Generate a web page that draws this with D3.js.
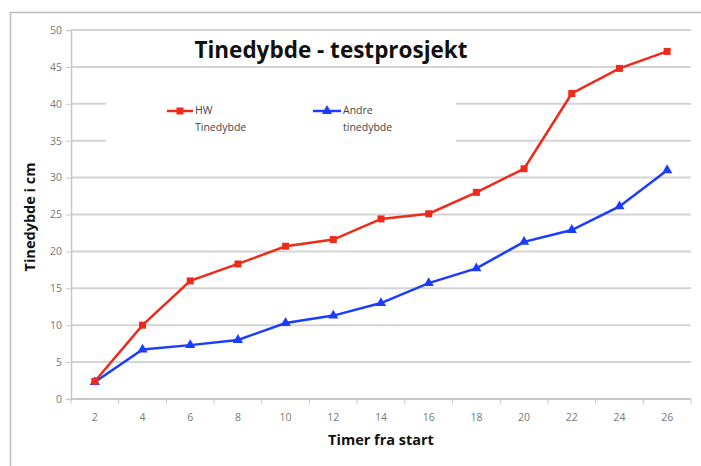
<!DOCTYPE html>
<html><head><meta charset="utf-8">
<script src="https://cdn.jsdelivr.net/npm/d3@7"></script>
<style>html,body{margin:0;padding:0;background:#fff;}svg{display:block;}</style>
</head><body>
<script>
const categories = ["2","4","6","8","10","12","14","16","18","20","22","24","26"];
const hwValues = [2.4,10.0,16.0,18.3,20.7,21.6,24.4,25.1,28.0,31.2,41.4,44.8,47.1];
const andreValues = [2.3,6.7,7.3,8.0,10.3,11.3,13.0,15.7,17.7,21.3,22.9,26.1,31.0];
const yTicks = [0,5,10,15,20,25,30,35,40,45,50];
const seriesNames = [["HW","Tinedybde"],["Andre","tinedybde"]];

const W=701,H=466;
const svg=d3.select("body").append("svg").attr("width",W).attr("height",H);
const font="'Open Sans', Lato, sans-serif";

// frame
svg.append("path").attr("d","M10.5,466 L10.5,12.5 L701,12.5").attr("fill","none").attr("stroke","#bdbdbd").attr("stroke-width",1.5);

const x=d3.scaleBand().domain(categories).range([71,691]).padding(0);
const y=d3.scaleLinear().domain([0,50]).range([399,30]);

// gridlines
svg.append("g").selectAll("line").data(yTicks.filter(d=>d>0)).join("line")
 .attr("x1",71).attr("x2",691).attr("y1",d=>y(d)).attr("y2",d=>y(d))
 .attr("stroke","#d4d4d4").attr("stroke-width",2);

// legend background blocking gridlines
svg.append("rect").attr("x",106).attr("y",80).attr("width",350).attr("height",85).attr("fill","#fff");

// y axis
const yAxis=d3.axisLeft(y).tickValues(yTicks).tickSize(5).tickPadding(4);
const gy=svg.append("g").attr("transform","translate(71,0)").call(yAxis);
gy.select(".domain").attr("stroke","#c8c8c8").attr("stroke-width",1.5);
gy.selectAll(".tick line").attr("stroke","#c8c8c8");
gy.selectAll(".tick text").attr("fill","#777").style("font-family",font).style("font-size","10.5px");

// x axis
svg.append("line").attr("x1",71).attr("x2",691).attr("y1",y(0)).attr("y2",y(0)).attr("stroke","#c8c8c8").attr("stroke-width",2);
const bounds=categories.map(c=>x(c)).concat([x(categories[categories.length-1])+x.bandwidth()]);
svg.append("g").selectAll("line").data(bounds).join("line")
 .attr("x1",d=>d).attr("x2",d=>d).attr("y1",y(0)).attr("y2",y(0)+5).attr("stroke","#c8c8c8");
svg.append("g").selectAll("text").data(categories).join("text")
 .attr("x",d=>x(d)+x.bandwidth()/2).attr("y",y(0)+22).attr("text-anchor","middle")
 .attr("fill","#777").style("font-family",font).style("font-size","10.5px").text(d=>d);

const cx=d=>x(d)+x.bandwidth()/2;
const line=d3.line().x((d,i)=>cx(categories[i])).y(d=>y(d));

// blue series
svg.append("path").datum(andreValues).attr("d",line).attr("fill","none").attr("stroke","#1a3cff").attr("stroke-width",2.5);
const tri=d3.symbol().type(d3.symbolTriangle).size(45);
svg.append("g").selectAll("path").data(andreValues).join("path")
 .attr("d",tri).attr("transform",(d,i)=>`translate(${cx(categories[i])},${y(d)})`).attr("fill","#1a3cff");

// red series
svg.append("path").datum(hwValues).attr("d",line).attr("fill","none").attr("stroke","#ee2a1a").attr("stroke-width",2.5);
svg.append("g").selectAll("rect").data(hwValues).join("rect")
 .attr("x",(d,i)=>cx(categories[i])-3.5).attr("y",d=>y(d)-3.5).attr("width",7).attr("height",7).attr("fill","#ee2a1a");

// title
svg.append("text").attr("x",331).attr("y",58).attr("text-anchor","middle")
 .style("font-family",font).style("font-weight","bold").style("font-size","22.5px").attr("fill","#111")
 .text("Tinedybde - testprosjekt");

// legend
const leg=[{c:"#ee2a1a",x0:167,x1:193,tx:195,m:"sq"},{c:"#1a3cff",x0:313,x1:341,tx:343,m:"tri"}];
leg.forEach((l,i)=>{
  svg.append("line").attr("x1",l.x0).attr("x2",l.x1).attr("y1",111).attr("y2",111).attr("stroke",l.c).attr("stroke-width",2.5);
  const mx=(l.x0+l.x1)/2;
  if(l.m==="sq") svg.append("rect").attr("x",mx-3.5).attr("y",107.5).attr("width",7).attr("height",7).attr("fill",l.c);
  else svg.append("path").attr("d",tri).attr("transform",`translate(${mx},111)`).attr("fill",l.c);
  svg.append("text").attr("x",l.tx).attr("y",114).style("font-family",font).style("font-size","10.5px").attr("fill","#444").text(seriesNames[i][0]);
  svg.append("text").attr("x",l.tx).attr("y",131).style("font-family",font).style("font-size","10.5px").attr("fill","#444").text(seriesNames[i][1]);
});

// axis titles
svg.append("text").attr("transform","translate(35,217) rotate(-90)").attr("text-anchor","middle")
 .style("font-family",font).style("font-weight","bold").style("font-size","14.5px").attr("fill","#111").text("Tinedybde i cm");
svg.append("text").attr("x",381).attr("y",445).attr("text-anchor","middle")
 .style("font-family",font).style("font-weight","bold").style("font-size","14.5px").attr("fill","#111").text("Timer fra start");
</script>
</body></html>
